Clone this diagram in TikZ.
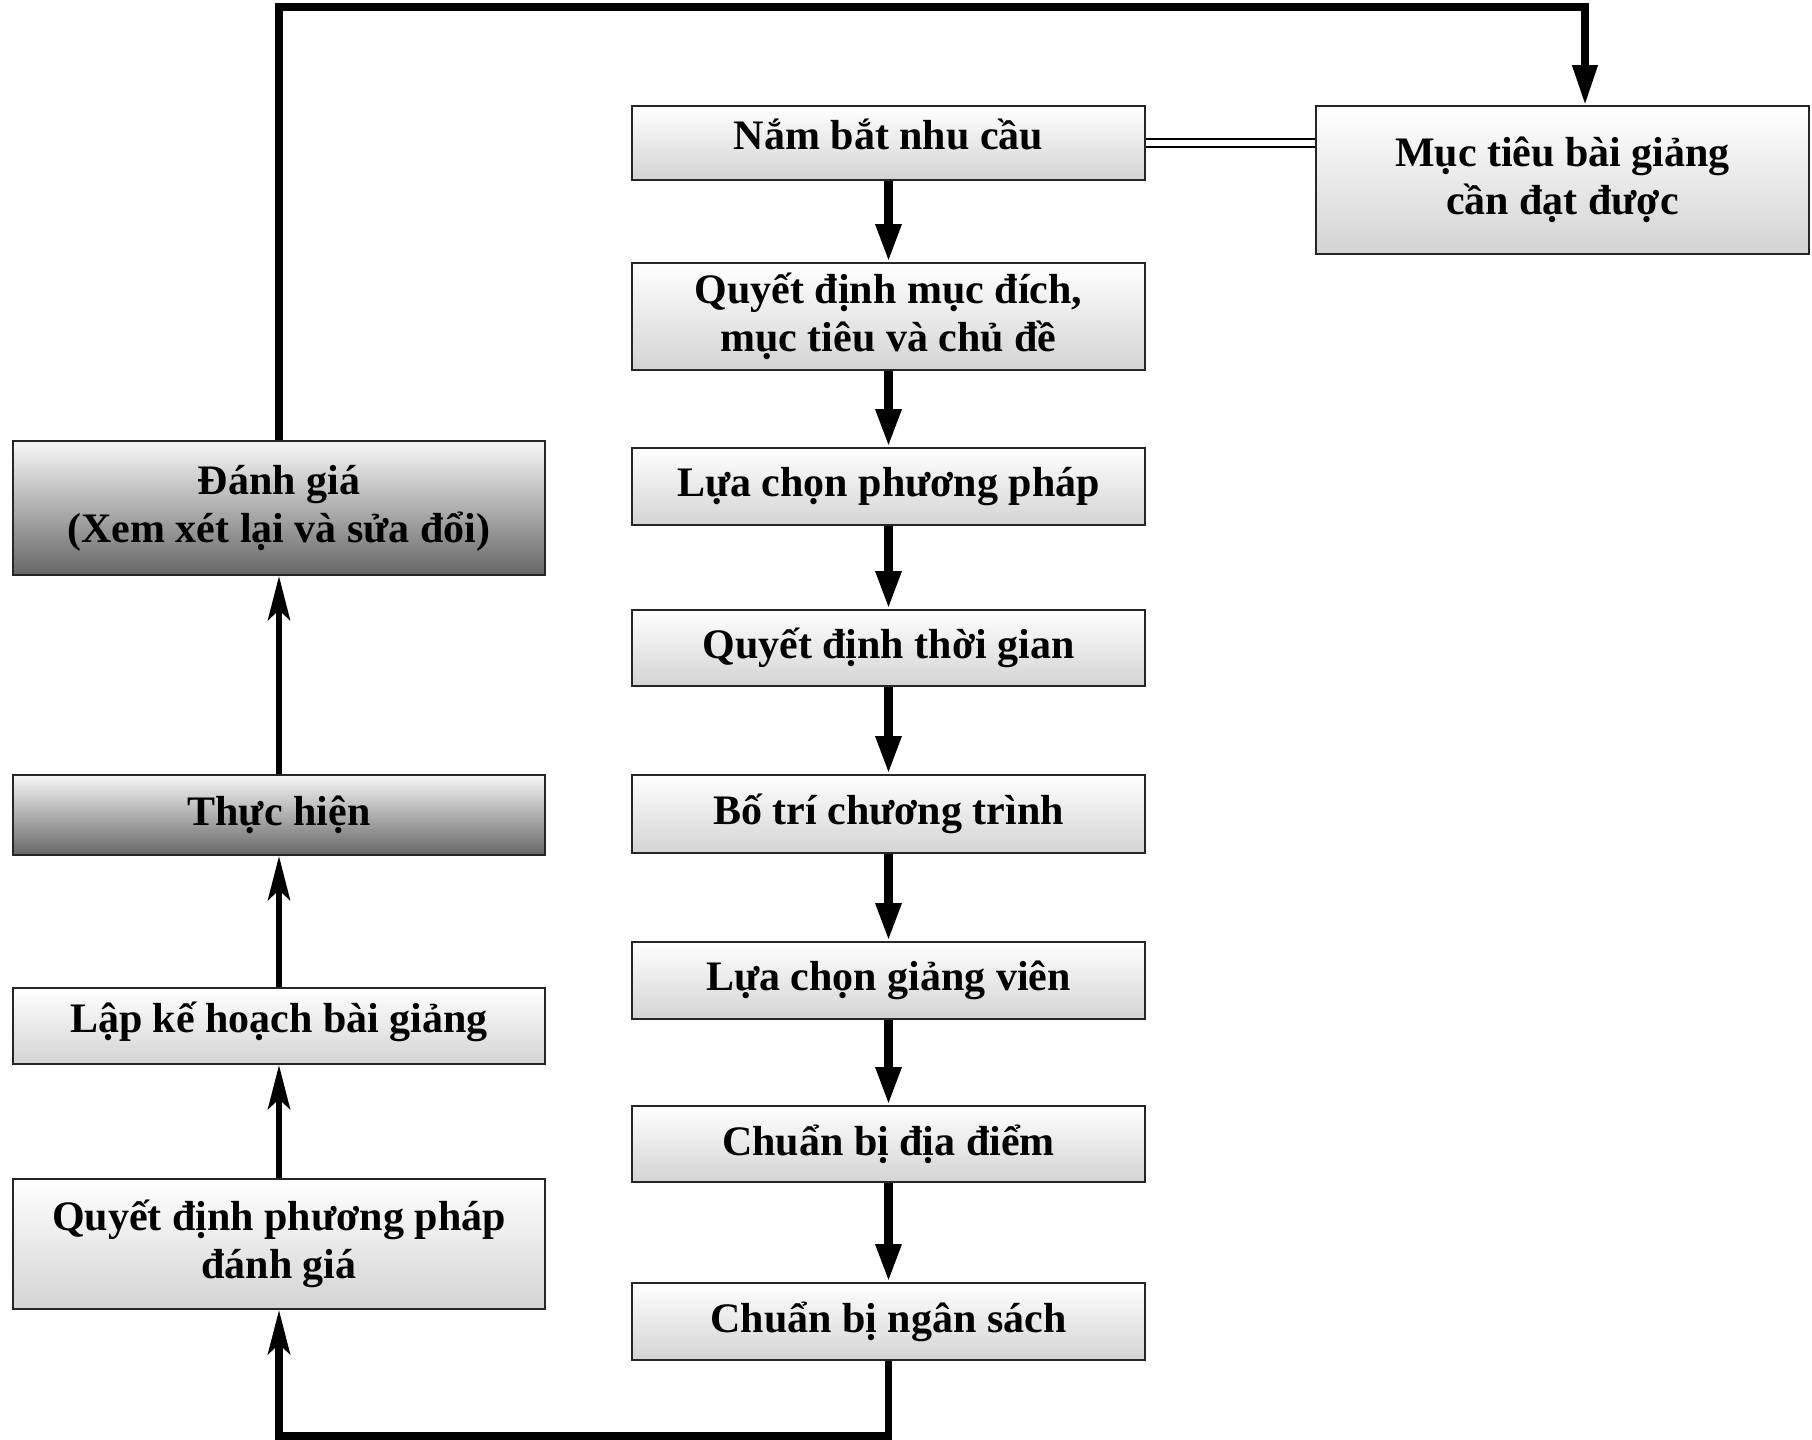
\documentclass[tikz,border=0pt]{standalone}
\usepackage{fontspec}
\setmainfont{Liberation Serif}
\usetikzlibrary{arrows.meta,shadings}
\begin{document}
\begin{tikzpicture}[x=0.5pt,y=-0.5pt,
  box/.style={draw=black!85, line width=1pt, shading=axis, top color=white, bottom color=black!17,
    font=\bfseries\fontsize{21}{24}\selectfont, align=center, inner sep=0pt, minimum width=256.5pt},
  lbox/.style={box, minimum width=266pt},
  darkbox/.style={lbox, top color=black!3, bottom color=black!60},
  flow/.style={line width=4.4pt, -{Triangle[length=19pt,width=12pt]}},
  up/.style={line width=3.4pt, line join=miter, -{Stealth[length=22pt,width=11pt,inset=5pt]}},
  loopline/.style={line width=3.6pt, line join=miter},
  dbl/.style={double, double distance=3pt, line width=1pt}
]
\useasboundingbox (0,0) rectangle (1812,1440);

% centre column
\node[box, minimum height=37pt, text depth=9pt] (n1) at (888.5,143) {Nắm bắt nhu cầu};
\node[box, minimum height=53.5pt] (n2) at (888.5,316.5) {Quyết định mục đích,\\ mục tiêu và chủ đề};
\node[box, minimum height=38.5pt] (n3) at (888.5,486.5) {Lựa chọn phương pháp};
\node[box, minimum height=38pt]   (n4) at (888.5,648)   {Quyết định thời gian};
\node[box, minimum height=39pt]   (n5) at (888.5,814)   {Bố trí chương trình};
\node[box, minimum height=38.5pt] (n6) at (888.5,980.5) {Lựa chọn giảng viên};
\node[box, minimum height=38pt]   (n7) at (888.5,1144)  {Chuẩn bị địa điểm};
\node[box, minimum height=38.5pt] (n8) at (888.5,1321.5){Chuẩn bị ngân sách};

% right box
\node[box, minimum width=246.5pt, minimum height=74pt] (m) at (1562.5,180) {Mục tiêu bài giảng\\ cần đạt được};

% left column
\node[darkbox, minimum height=67pt] (l1) at (279,508)  {Đánh giá\\ (Xem xét lại và sửa đổi)};
\node[darkbox, minimum height=40pt] (l2) at (279,815)  {Thực hiện};
\node[lbox, minimum height=38pt, text depth=9pt] (l3) at (279,1026) {Lập kế hoạch bài giảng};
\node[lbox, minimum height=65pt]    (l4) at (279,1244) {Quyết định phương pháp\\ đánh giá};

% centre flow
\draw[flow] (n1) -- (n2);
\draw[flow] (n2) -- (n3);
\draw[flow] (n3) -- (n4);
\draw[flow] (n4) -- (n5);
\draw[flow] (n5) -- (n6);
\draw[flow] (n6) -- (n7);
\draw[flow] (n7) -- (n8);

% left flow
\draw[up] (l4) -- (l3);
\draw[up] (l3) -- (l2);
\draw[up] (l2) -- (l1);

% double link
\draw[dbl] (n1.east) -- (n1.east -| m.west);

% top loop
\coordinate (tl) at (279,7);
\coordinate (tr) at (1585,7);
\draw[loopline, -{Triangle[length=20pt,width=12pt]}] (l1.north) -- (tl) -- (tr) -- (tr |- m.north);

% bottom loop
\coordinate (br) at (888.5,1436);
\coordinate (bl) at (279,1436);
\draw[up, line width=3.6pt] (n8.south) -- (br) -- (bl) -- (l4.south);
\end{tikzpicture}
\end{document}
